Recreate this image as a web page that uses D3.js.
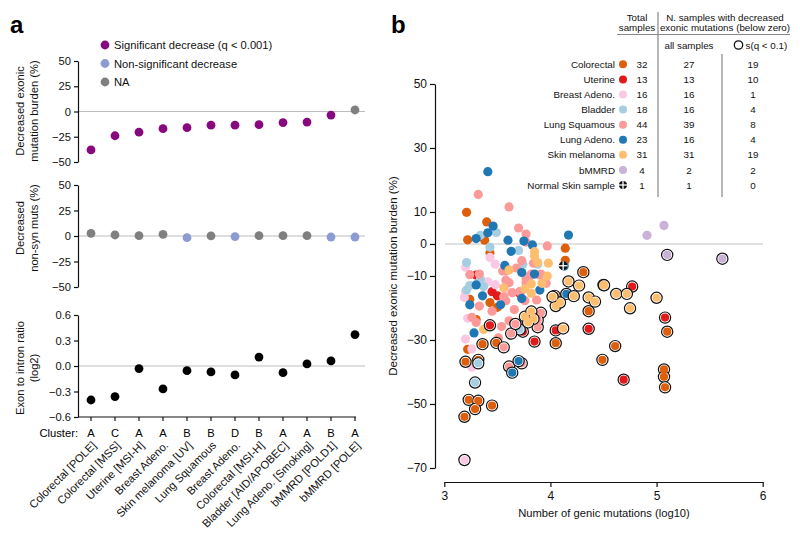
<!DOCTYPE html>
<html><head><meta charset="utf-8">
<script src="https://cdn.jsdelivr.net/npm/d3@7"></script>
<style>body{margin:0;background:#fff} svg{font-family:Arial,"Liberation Sans",Helvetica,sans-serif}</style>
</head><body><svg id="c" width="800" height="545"></svg>
<script>
// ---------- Panel a data ----------
const groupsA = ["Colorectal [POLE]","Colorectal [MSS]","Uterine [MSI-H]","Breast Adeno.","Skin melanoma [UV]","Lung Squamous","Breast Adeno.","Colorectal [MSI-H]","Bladder [AID/APOBEC]","Lung Adeno. [Smoking]","bMMRD [POLD1]","bMMRD [POLE]"];
const clustersA = ["A","C","A","A","B","B","D","B","A","A","B","A"];
const exonicBurden = [-38,-24,-20.5,-17,-16,-13.5,-13.5,-13,-11,-10.5,-3.5,1.5];
const exonicStatus = ["sig","sig","sig","sig","sig","sig","sig","sig","sig","sig","sig","na"];
const nonSynMuts = [2.6,1,0.3,1.6,-1.6,0.2,-0.6,0.3,0.3,0.3,-1,-1];
const nonSynStatus = ["na","na","na","na","ns","na","ns","na","na","na","ns","ns"];
const exonIntronRatio = [-0.40,-0.36,-0.03,-0.27,-0.055,-0.07,-0.105,0.105,-0.078,0.024,0.06,0.37];
const legendA = ["Significant decrease (q < 0.001)","Non-significant decrease","NA"];
const legendAKeys = ["sig","ns","na"];
const ticksBurden = [50,25,0,-25,-50];
const ticksRatio = [0.6,0.3,0.0,-0.3,-0.6];

// ---------- Panel b data: [log10 genic mutations, decreased exonic burden %, significant] ----------
const colorectal = [[3.21,9.9,0],[3.40,6.9,0],[3.22,1.3,0],[3.38,1.2,0],[3.43,-2.7,0],[4.14,-1.3,0],[4.14,-5.1,0],[3.24,-17.3,0],[3.43,-18.3,0],[3.50,-19.8,0],[3.30,-23.6,0],[3.22,-32.9,0],
 [3.36,-31.3,1],[3.49,-30.9,1],[3.20,-36.8,1],[3.32,-36.2,1],[3.23,-48.7,1],[3.32,-49.0,1],[3.29,-51.6,1],[3.45,-50.5,1],[3.19,-54.0,1],[4.04,-16.2,1],[4.36,-21.0,1],[4.05,-31.0,1],[4.49,-36.2,1],[4.31,-8.8,1],[4.61,-31.9,1],[5.10,-27.4,1],[5.07,-39.2,1],[5.07,-41.5,1],[5.08,-44.8,1]];
const uterine = [[3.30,-9.7,0],[3.45,-14.9,0],[3.50,-16.2,0],[3.71,-15.4,0],
 [3.43,-25.4,1],[3.74,-27.4,1],[3.85,-30.5,1],[4.05,-27.0,1],[4.36,-26.5,1],[4.77,-13.3,1],[5.08,-23.0,1],[4.69,-42.4,1]];
const breast = [[3.20,-7.3,0],[3.43,-4.2,0],[3.48,-6.3,0],[3.19,-16.7,0],[3.22,-23.2,0],[3.20,-29.7,0],[3.26,-38.5,0],[3.41,-11.8,0],[3.48,-12.7,0],[3.26,-32.8,0],[3.20,-14.9,0],[3.59,-14.9,0],
 [3.19,-67.5,1]];
const bladder = [[3.34,2.7,0],[3.49,3.6,0],[3.43,-1.0,0],[3.70,-2.0,0],[3.21,-5.8,0],[3.34,-11.1,0],[3.24,-13.0,0],[3.37,-13.3,0],[3.74,-6.3,0],[3.88,-6.3,0],[3.21,-14.4,0],
 [3.32,-37.3,1],[3.29,-43.3,1],[3.71,-26.7,1]];
const lungSquamous = [[3.32,15.5,0],[3.61,11.6,0],[3.70,5.0,0],[3.77,3.1,0],[3.77,0.6,0],[3.97,-0.6,0],[3.24,-9.6,0],[3.33,-9.4,0],[3.55,-8.4,0],[3.58,-8.4,0],[3.58,-11.3,0],[3.73,-5.2,0],[3.82,-9.4,0],[3.77,-10.6,0],[3.91,-9.4,0],[3.33,-19.4,0],[3.58,-17.7,0],[3.54,-25.8,0],[3.51,-29.3,0],[3.56,-16.5,0],[3.64,-15.2,0],[3.61,-12.1,0],[3.71,-14.9,0],[3.80,-10.2,0],[3.77,-12.0,0],[3.90,-9.7,0],[3.87,-17.5,0],[3.76,-17.7,0],[3.26,-22.9,0],[3.96,-12.3,0],[3.61,-24.0,0],[3.66,-20.5,0],[3.45,-21.0,0],[3.84,-6.0,0],[3.68,-7.5,0],[3.30,-24.5,0],
 [3.56,-32.3,1],[3.63,-28.0,1],[3.61,-38.3,1],[3.73,-37.3,1],[3.91,-21.5,1],[3.88,-26.0,1],[3.88,-23.8,1],[3.67,-25.0,1]];
const lungAdeno = [[3.41,22.6,0],[3.46,5.6,0],[3.41,3.5,0],[3.30,1.7,0],[3.60,1.2,0],[3.75,0.9,0],[4.17,2.8,0],[3.83,-0.3,0],[3.63,-2.3,0],[4.13,-6.9,0],[3.30,-12.8,0],[3.57,-6.7,0],[3.73,-8.9,0],[3.85,-9.4,0],[3.36,-16.2,0],[3.24,-19.0,0],[3.53,-19.0,0],[3.28,-27.8,0],[3.90,-14.4,0],[3.73,-17.0,0],
 [3.64,-40.2,1],[3.70,-36.6,1],[4.15,-15.6,1]];
const skinMelanoma = [[3.85,-2.4,0],[3.85,-3.8,0],[3.88,-5.8,0],[3.61,-8.1,0],[3.82,-12.5,0],[3.98,-6.0,0],[3.97,-10.0,0],[3.56,-13.7,0],[3.37,-26.7,0],[3.92,-12.3,0],[3.82,-15.4,0],[3.76,-14.0,0],
 [3.76,-22.7,1],[3.82,-21.1,1],[3.84,-23.4,1],[4.05,-19.4,1],[4.09,-18.3,1],[4.02,-16.5,1],[4.22,-16.3,1],[4.36,-16.7,1],[4.42,-18.0,1],[4.12,-26.4,1],[4.17,-11.7,1],[4.27,-13.0,1],[4.50,-12.8,1],[4.505,-12.9,1],[4.62,-15.6,1],[4.72,-15.6,1],[4.75,-20.1,1],[5.00,-16.8,1],[3.79,-24.5,1]];
const bMMRD = [[4.91,2.7,0],[5.07,5.8,0],[5.10,-3.4,1],[5.62,-4.6,1]];
const normalSkin = [[4.12,-6.8]];

const legendNames = ["Colorectal","Uterine","Breast Adeno.","Bladder","Lung Squamous","Lung Adeno.","Skin melanoma","bMMRD","Normal Skin sample"];
const totalSamples = [32,13,16,18,44,23,31,4,1];
const belowZeroAll = [27,13,16,16,39,16,31,2,1];
const belowZeroSig = [19,10,1,4,8,4,19,2,0];
const ticksBX = [3,4,5,6];
const ticksBY = [50,30,10,0,-10,-30,-50,-70];

// ---------- styles ----------
const statusColor = {sig:"#87087F", ns:"#8C9BD2", na:"#808080"};
const typeColors = ["#DD5F0C","#E31A1C","#FAC8E2","#A6CEE3","#FB9A99","#1F78B4","#FDBF6F","#CAB2D6"];
const typeData = [colorectal, uterine, breast, bladder, lungSquamous, lungAdeno, skinMelanoma, bMMRD];
const FS_A = 11.2, FS_T = 9.8;

const svg = d3.select("#c");

// panel letters
svg.append("text").attr("x",10).attr("y",33).attr("font-size",24).attr("font-weight","bold").text("a");
svg.append("text").attr("x",391).attr("y",33).attr("font-size",24).attr("font-weight","bold").text("b");

// ================= Panel a =================
const xA = d3.scalePoint().domain(d3.range(groupsA.length)).range([91,355]);
const yTop = d3.scaleLinear().domain([-50,50]).range([162,61]);
const yMid = d3.scaleLinear().domain([-50,50]).range([287,185]);
const yBot = d3.scaleLinear().domain([-0.6,0.6]).range([417,315]);

function drawA(y, ticks, fmt, vals, stat, titleLines, titleY) {
  const g = svg.append("g");
  g.append("line").attr("x1",78).attr("x2",365).attr("y1",y(0)).attr("y2",y(0)).attr("stroke","#bdbdbd").attr("stroke-width",1.2);
  const ax = g.append("g").attr("transform","translate(78,0)")
    .call(d3.axisLeft(y).tickValues(ticks).tickSize(4).tickSizeOuter(0).tickPadding(3).tickFormat(fmt));
  ax.selectAll("text").attr("font-size",FS_A).attr("font-family","Arial, 'Liberation Sans', sans-serif").attr("fill","#111");
  ax.selectAll("path,line").attr("stroke","#111").attr("stroke-width",1.2);
  g.selectAll("circle.pt").data(vals).join("circle").attr("class","pt")
    .attr("cx",(d,i)=>xA(i)).attr("cy",d=>y(d)).attr("r",4.4)
    .attr("fill",(d,i)=>stat ? statusColor[stat[i]] : "#000");
  titleLines.forEach((t,k)=>{
    g.append("text").attr("transform",`translate(${24+k*13.5},${titleY}) rotate(-90)`)
      .attr("text-anchor","middle").attr("font-size",FS_A).attr("fill","#111").text(t);
  });
}
drawA(yTop, ticksBurden, d3.format("d"), exonicBurden, exonicStatus, ["Decreased exonic","mutation burden  (%)"], 111);
drawA(yMid, ticksBurden, d3.format("d"), nonSynMuts, nonSynStatus, ["Decreased","non-syn muts  (%)"], 228);
drawA(yBot, ticksRatio, d3.format(".1f"), exonIntronRatio, null, ["Exon to intron ratio","(log2)"], 368);

// bottom categorical axis
const gx = svg.append("g");
gx.append("line").attr("x1",78).attr("x2",356).attr("y1",417).attr("y2",417).attr("stroke","#111").attr("stroke-width",1.2);
gx.selectAll("line.tk").data(groupsA).join("line").attr("class","tk")
  .attr("x1",(d,i)=>xA(i)).attr("x2",(d,i)=>xA(i)).attr("y1",417).attr("y2",421).attr("stroke","#111").attr("stroke-width",1.2);
gx.append("text").attr("x",78).attr("y",437).attr("text-anchor","end").attr("font-size",FS_A).text("Cluster:");
gx.selectAll("text.cl").data(clustersA).join("text").attr("class","cl")
  .attr("x",(d,i)=>xA(i)).attr("y",437).attr("text-anchor","middle").attr("font-size",FS_A).text(d=>d);
gx.selectAll("text.lb").data(groupsA).join("text").attr("class","lb")
  .attr("transform",(d,i)=>`translate(${xA(i)+6},446) rotate(-45)`)
  .attr("text-anchor","end").attr("font-size",FS_A).attr("fill","#111").text(d=>d);

// legend a
const lg = svg.append("g");
legendA.forEach((t,i)=>{
  const yy = 45 + i*18.5;
  lg.append("circle").attr("cx",105).attr("cy",yy).attr("r",4.4).attr("fill",statusColor[legendAKeys[i]]);
  lg.append("text").attr("x",114).attr("y",yy+4).attr("font-size",FS_A).attr("fill","#111").text(t);
});

// ================= Panel b =================
const xB = d3.scaleLinear().domain([3,6]).range([444.3,762.7]);
const yB = d3.scaleLinear().domain([-70,50]).range([468,84]);

svg.append("line").attr("x1",445).attr("x2",763).attr("y1",yB(0)).attr("y2",yB(0)).attr("stroke","#c4c4c4").attr("stroke-width",1.2);

const axY = svg.append("g").attr("transform","translate(435,0)")
  .call(d3.axisLeft(yB).tickValues(ticksBY).tickSize(5).tickSizeOuter(0).tickPadding(3).tickFormat(d3.format("d")));
const axX = svg.append("g").attr("transform","translate(0,482)")
  .call(d3.axisBottom(xB).tickValues(ticksBX).tickSize(5).tickSizeOuter(0).tickPadding(4).tickFormat(d3.format("d")));
[axY,axX].forEach(a=>{
  a.selectAll("text").attr("font-size",12).attr("font-family","Arial, 'Liberation Sans', sans-serif").attr("fill","#111");
  a.selectAll("path,line").attr("stroke","#111").attr("stroke-width",1.2);
});
svg.append("text").attr("x",604).attr("y",517).attr("text-anchor","middle").attr("font-size",11.2).attr("fill","#111").text("Number of genic mutations (log10)");
svg.append("text").attr("transform","translate(397,276) rotate(-90)").attr("text-anchor","middle").attr("font-size",11.5).attr("fill","#111").text("Decreased exonic mutation burden (%)");

const gp = svg.append("g");
// non significant first
typeData.forEach((arr,k)=>{
  gp.append("g").selectAll("circle").data(arr.filter(d=>!d[2])).join("circle")
    .attr("cx",d=>xB(d[0])).attr("cy",d=>yB(d[1])).attr("r",4.6).attr("fill",typeColors[k]);
});
// significant with ring
typeData.forEach((arr,k)=>{
  const s = arr.filter(d=>d[2]);
  const g = gp.append("g");
  g.selectAll("circle.ring").data(s).join("circle").attr("class","ring")
    .attr("cx",d=>xB(d[0])).attr("cy",d=>yB(d[1])).attr("r",5.6).attr("fill","#fff").attr("stroke","#111").attr("stroke-width",1.2);
  g.selectAll("circle.in").data(s).join("circle").attr("class","in")
    .attr("cx",d=>xB(d[0])).attr("cy",d=>yB(d[1])).attr("r",4.1).attr("fill",typeColors[k]);
});
// normal skin sample
function crossDot(g, cx, cy, r) {
  g.append("circle").attr("cx",cx).attr("cy",cy).attr("r",r).attr("fill","#111");
  g.append("line").attr("x1",cx-r).attr("x2",cx+r).attr("y1",cy).attr("y2",cy).attr("stroke","#fff").attr("stroke-width",1.3);
  g.append("line").attr("x1",cx).attr("x2",cx).attr("y1",cy-r).attr("y2",cy+r).attr("stroke","#fff").attr("stroke-width",1.3);
}
normalSkin.forEach(d=>crossDot(gp, xB(d[0]), yB(d[1]), 4.4));

// legend table
const tb = svg.append("g").attr("font-size",FS_T).attr("fill","#111");
const hdr = (x,y,t)=>tb.append("text").attr("x",x).attr("y",y).attr("text-anchor","middle").text(t);
hdr(637,21,"Total");
hdr(637,31,"samples");
hdr(725,21,"N. samples with decreased");
hdr(725,31,"exonic mutations (below zero)");
tb.append("line").attr("x1",617).attr("x2",790).attr("y1",34.5).attr("y2",34.5).attr("stroke","#888").attr("stroke-width",1);
tb.append("line").attr("x1",658).attr("x2",658).attr("y1",12).attr("y2",197).attr("stroke","#888").attr("stroke-width",1.2);
tb.append("line").attr("x1",722).attr("x2",722).attr("y1",54).attr("y2",197).attr("stroke","#888").attr("stroke-width",1.2);
tb.append("text").attr("x",689).attr("y",49).attr("text-anchor","middle").text("all samples");
tb.append("circle").attr("cx",738.5).attr("cy",45).attr("r",4.2).attr("fill","none").attr("stroke","#111").attr("stroke-width",1.3);
tb.append("text").attr("x",745.5).attr("y",49).text("s(q < 0.1)");
const rowY = d3.scaleLinear().domain([0,8]).range([64.3,185]);
legendNames.forEach((n,i)=>{
  const yy = rowY(i);
  tb.append("text").attr("x",615).attr("y",yy+3.6).attr("text-anchor","end").text(n);
  if (i < typeColors.length) tb.append("circle").attr("cx",623).attr("cy",yy).attr("r",4).attr("fill",typeColors[i]);
  else crossDot(tb, 623, yy, 4);
  tb.append("text").attr("x",642).attr("y",yy+3.6).attr("text-anchor","middle").text(totalSamples[i]);
  tb.append("text").attr("x",689).attr("y",yy+3.6).attr("text-anchor","middle").text(belowZeroAll[i]);
  tb.append("text").attr("x",753).attr("y",yy+3.6).attr("text-anchor","middle").text(belowZeroSig[i]);
});
</script></body></html>
